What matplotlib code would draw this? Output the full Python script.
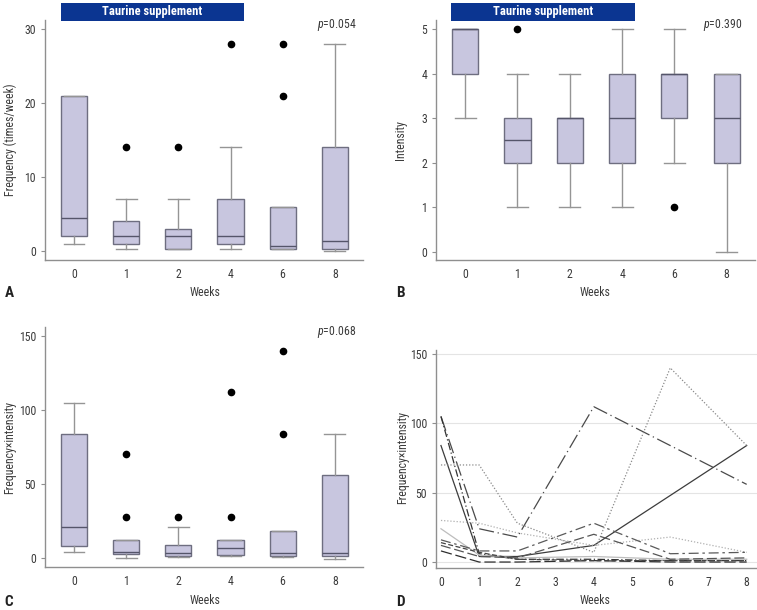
import matplotlib
matplotlib.use("Agg")
import matplotlib.pyplot as plt
from matplotlib import font_manager

# ---------------- data ----------------
week_labels = ['0', '1', '2', '4', '6', '8']

freq_whislo = [1, 0.2, 0.2, 0.2, 0.2, 0]
freq_q1 = [2, 1, 0.2, 1, 0.2, 0.3]
freq_med = [4.5, 2, 2, 2, 0.7, 1.3]
freq_q3 = [21, 4, 3, 7, 6, 14]
freq_whishi = [21, 7, 7, 14, 6, 28]
freq_fliers = [[], [14], [14], [28], [21, 28], []]

int_whislo = [3, 1, 1, 1, 2, 0]
int_q1 = [4, 2, 2, 2, 3, 2]
int_med = [5, 2.5, 3, 3, 4, 3]
int_q3 = [5, 3, 3, 4, 4, 4]
int_whishi = [5, 4, 4, 5, 5, 4]
int_fliers = [[], [5], [], [], [1], []]

fi_whislo = [4, 0, 0.5, 1, 0.5, -1]
fi_q1 = [8, 3, 1, 2, 1, 1]
fi_med = [21, 4, 3.5, 7, 3.5, 3.5]
fi_q3 = [84, 12, 9, 12, 18, 56]
fi_whishi = [105, 12, 21, 12, 18, 84]
fi_fliers = [[], [28, 70], [28], [28, 112], [84, 140], []]

p_values = ['0.054', '0.390', '0.068']

weeks_num = [0, 1, 2, 4, 6, 8]
subj_1 = [84, 4, 4, 12, None, 84]
subj_2 = [105, 24, 18, 112, 84, 56]
subj_3 = [70, 70, 28, 7, 140, 84]
subj_4 = [105, 6, 2, 2, 1, 1]
subj_5 = [30, 28, 21, 12, 18, 7]
subj_6 = [24, 5, 3, 4, 2, 2]
subj_7 = [16, 8, 8, 28, 6, 7]
subj_8 = [12, 4, 3, 20, 2, 3]
subj_9 = [8, 0, 0, 1, 0, 0]
subj_10 = [14, 7, 2, 1, 1, 1]

# ---------------- style ----------------
names = {f.name for f in font_manager.fontManager.ttflist}
fam = 'DejaVu Sans'
for cand in ['Liberation Sans Narrow', 'Roboto Condensed', 'Roboto', 'Liberation Sans']:
    if cand in names:
        fam = cand
        break
plt.rcParams['font.family'] = [fam, 'DejaVu Sans']
plt.rcParams['mathtext.fontset'] = 'custom'
plt.rcParams['mathtext.it'] = fam + ':italic'
plt.rcParams['mathtext.rm'] = fam

W, H = 757, 610
fig = plt.figure(figsize=(W / 100, H / 100), dpi=100)

TXT = '#3a3a3a'
SPINE = '#8f8f8f'
BOXFILL = '#c8c6df'
BOXEDGE = '#6e6e80'
WHISK = '#959595'
BANNER = '#0b3591'


def add_axes_px(left, top, right, bottom):
    return fig.add_axes([left / W, 1 - bottom / H, (right - left) / W, (bottom - top) / H])


def style(ax):
    for s in ['top', 'right']:
        ax.spines[s].set_visible(False)
    for s in ['left', 'bottom']:
        ax.spines[s].set_color(SPINE)
        ax.spines[s].set_linewidth(1.0)
    ax.tick_params(axis='y', colors=SPINE, labelcolor=TXT, labelsize=8.5, length=3, width=0.8)
    ax.tick_params(axis='x', colors=SPINE, labelcolor=TXT, labelsize=8.5, length=0, pad=6)


def box_panel(ax, wlo, q1, med, q3, whi, fl):
    stats = []
    for i in range(len(week_labels)):
        stats.append(dict(whislo=wlo[i], q1=q1[i], med=med[i], q3=q3[i],
                          whishi=whi[i], fliers=fl[i], label=week_labels[i]))
    ax.bxp(stats, positions=range(len(week_labels)), widths=0.5, capwidths=0.4,
           patch_artist=True, showfliers=True,
           boxprops=dict(facecolor=BOXFILL, edgecolor=BOXEDGE, linewidth=1.0),
           medianprops=dict(color='#55556a', linewidth=1.0),
           whiskerprops=dict(color=WHISK, linewidth=1.0),
           capprops=dict(color=WHISK, linewidth=1.0),
           flierprops=dict(marker='o', markerfacecolor='black', markeredgecolor='black',
                           markersize=4.5))
    ax.set_xlim(-0.556, 5.54)
    style(ax)


def ftext(x, y, s, **kw):
    fig.text(x / W, 1 - y / H, s, **kw)


# Panel A
axA = add_axes_px(45, 20, 363, 260)
box_panel(axA, freq_whislo, freq_q1, freq_med, freq_q3, freq_whishi, freq_fliers)
axA.set_ylim(-1.22, 31.2)
axA.set_yticks([0, 10, 20, 30])

# Panel B
axB = add_axes_px(436, 20, 755, 260)
box_panel(axB, int_whislo, int_q1, int_med, int_q3, int_whishi, int_fliers)
axB.set_ylim(-0.18, 5.2)
axB.set_yticks([0, 1, 2, 3, 4, 5])

# Panel C
axC = add_axes_px(45, 327, 363, 567)
box_panel(axC, fi_whislo, fi_q1, fi_med, fi_q3, fi_whishi, fi_fliers)
axC.set_ylim(-6.1, 156)
axC.set_yticks([0, 50, 100, 150])

# Panel D
axD = add_axes_px(436, 350, 757, 568)
style(axD)
axD.set_xlim(-0.13, 8.27)
axD.set_ylim(-4.3, 152.9)
axD.set_yticks([0, 50, 100, 150])
axD.set_xticks(range(9))
axD.yaxis.grid(True, color='#e4e4e4', linewidth=0.8)
axD.set_axisbelow(True)

subjects = [subj_1, subj_2, subj_3, subj_4, subj_5, subj_6, subj_7, subj_8, subj_9, subj_10]
line_styles = [
    dict(color='#3c3c3c', linestyle='-'),
    dict(color='#4a4a4a', linestyle=(0, (12, 3, 1, 3))),
    dict(color='#8a8a8a', linestyle=(0, (1, 1.5))),
    dict(color='#333333', linestyle=(0, (6, 2, 1, 2))),
    dict(color='#b0b0b0', linestyle=(0, (1, 1.5))),
    dict(color='#bdbdbd', linestyle='-'),
    dict(color='#5a5a5a', linestyle=(0, (8, 3, 2, 3))),
    dict(color='#555555', linestyle=(0, (8, 3))),
    dict(color='#2e2e2e', linestyle=(0, (9, 3))),
    dict(color='#444444', linestyle=(0, (4, 2))),
]
for vals, st in zip(subjects, line_styles):
    xs = [w for w, v in zip(weeks_num, vals) if v is not None]
    ys = [v for v in vals if v is not None]
    axD.plot(xs, ys, linewidth=0.9, **st)

# Banners
for left, right in [(61, 244), (451, 635)]:
    r = plt.Rectangle((left / W, 1 - 21 / H), (right - left) / W, 18 / H,
                      transform=fig.transFigure, facecolor=BANNER, edgecolor='none')
    fig.add_artist(r)
    ftext((left + right) / 2, 12, 'Taurine supplement', color='white', fontsize=9,
          fontweight='bold', ha='center', va='center')

# p values
ftext(337, 25, r'$\mathit{p}$=' + p_values[0], color=TXT, fontsize=8.5, ha='center', va='center')
ftext(723, 25, r'$\mathit{p}$=' + p_values[1], color=TXT, fontsize=8.5, ha='center', va='center')
ftext(337, 332, r'$\mathit{p}$=' + p_values[2], color=TXT, fontsize=8.5, ha='center', va='center')

# axis labels
for x, y in [(205, 293), (595, 293), (205, 601), (595, 601)]:
    ftext(x, y, 'Weeks', color=TXT, fontsize=8.5, ha='center', va='center')
ftext(10, 140, 'Frequency (times/week)', color=TXT, fontsize=8.5, ha='center', va='center', rotation=90)
ftext(401, 140, 'Intensity', color=TXT, fontsize=8.5, ha='center', va='center', rotation=90)
ftext(10, 447, 'Frequency×intensity', color=TXT, fontsize=8.5, ha='center', va='center', rotation=90)
ftext(403, 457, 'Frequency×intensity', color=TXT, fontsize=8.5, ha='center', va='center', rotation=90)

# panel letters
for x, y, s in [(9, 293, 'A'), (400, 293, 'B'), (9, 602, 'C'), (400, 602, 'D')]:
    ftext(x, y, s, color='#222222', fontsize=11, fontweight='bold', ha='center', va='center')

fig.savefig('out.png', dpi=100)
